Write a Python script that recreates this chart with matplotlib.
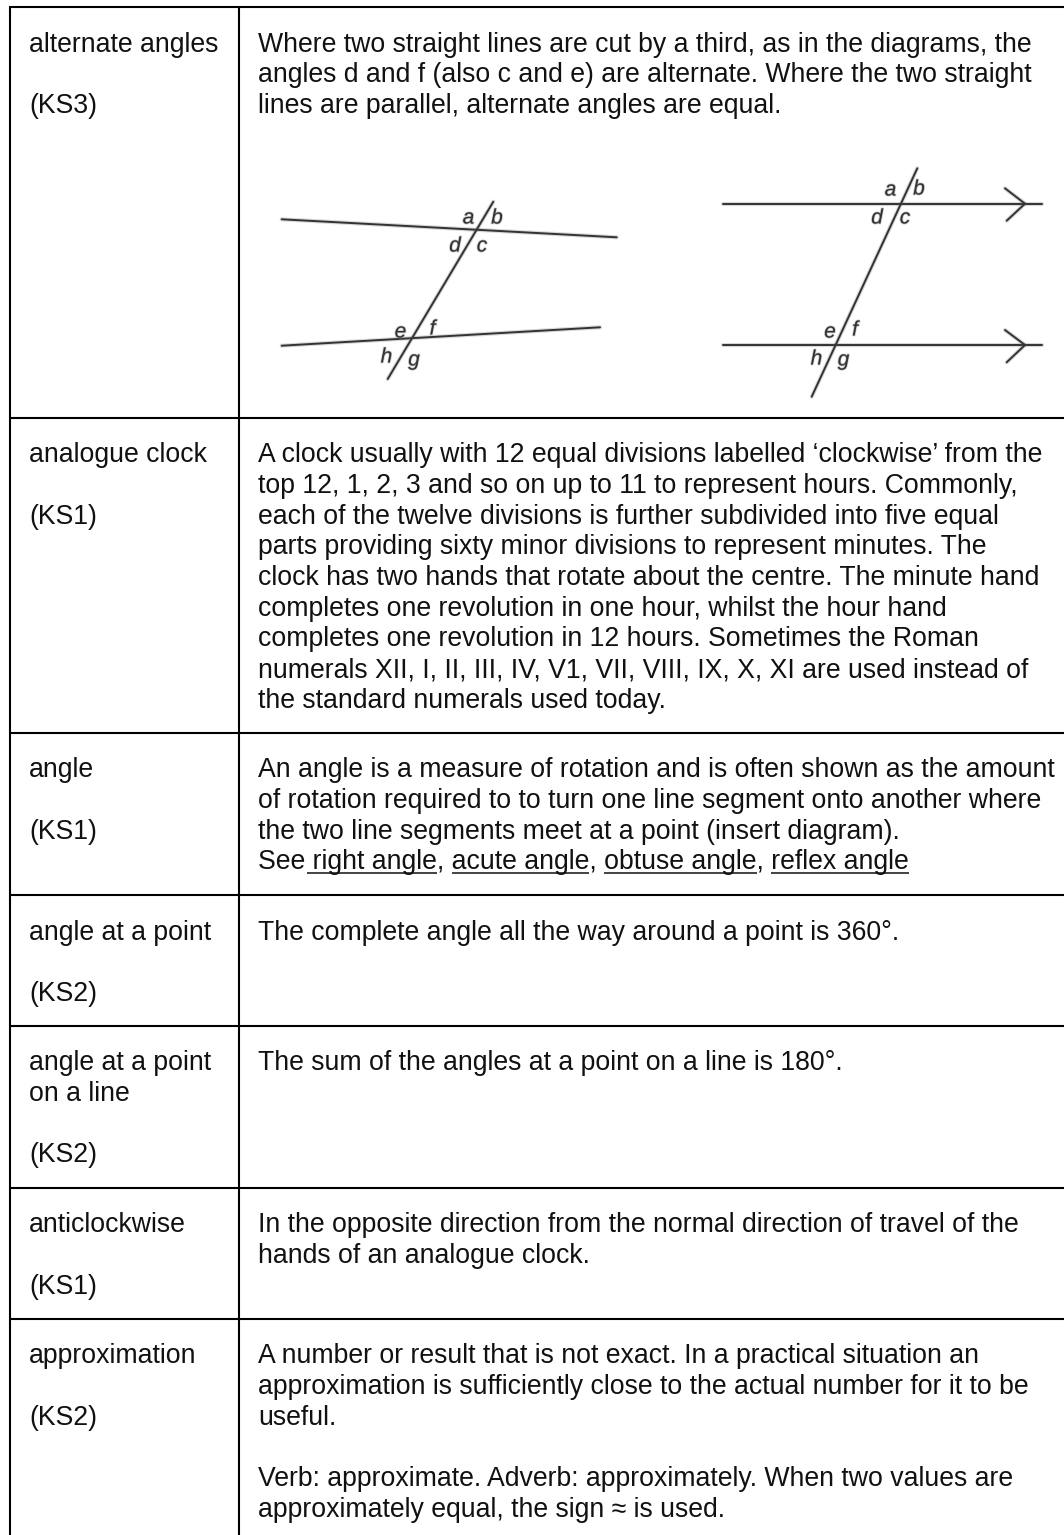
import matplotlib
matplotlib.use("Agg")
import matplotlib.pyplot as plt
import matplotlib.patheffects as pe

plt.rcParams['font.family'] = ['Liberation Sans', 'DejaVu Sans']

# table geometry, read in pixels
row_tops = [7, 417.5, 732.5, 895, 1025.5, 1187.5, 1318.5]
col_lines = [10, 239]
page_bottom = 1535
page_right = 1064

terms = [
    ["alternate angles", "", "(KS3)"],
    ["analogue clock", "", "(KS1)"],
    ["angle", "", "(KS1)"],
    ["angle at a point", "", "(KS2)"],
    ["angle at a point", "on a line", "", "(KS2)"],
    ["anticlockwise", "", "(KS1)"],
    ["approximation", "", "(KS2)"],
]

definitions = [
    ["Where two straight lines are cut by a third, as in the diagrams, the",
     "angles d and f (also c and e) are alternate. Where the two straight",
     "lines are parallel, alternate angles are equal."],
    ["A clock usually with 12 equal divisions labelled ‘clockwise’ from the",
     "top 12, 1, 2, 3 and so on up to 11 to represent hours. Commonly,",
     "each of the twelve divisions is further subdivided into five equal",
     "parts providing sixty minor divisions to represent minutes. The",
     "clock has two hands that rotate about the centre. The minute hand",
     "completes one revolution in one hour, whilst the hour hand",
     "completes one revolution in 12 hours. Sometimes the Roman",
     "numerals XII, I, II, III, IV, V1, VII, VIII, IX, X, XI are used instead of",
     "the standard numerals used today."],
    ["An angle is a measure of rotation and is often shown as the amount",
     "of rotation required to to turn one line segment onto another where",
     "the two line segments meet at a point (insert diagram).",
     "See right angle, acute angle, obtuse angle, reflex angle"],
    ["The complete angle all the way around a point is 360°."],
    ["The sum of the angles at a point on a line is 180°."],
    ["In the opposite direction from the normal direction of travel of the",
     "hands of an analogue clock."],
    ["A number or result that is not exact. In a practical situation an",
     "approximation is sufficiently close to the actual number for it to be",
     "useful.",
     "",
     "Verb: approximate. Adverb: approximately. When two values are",
     "approximately equal, the sign ≈ is used."],
]

see_also = ["right angle", "acute angle", "obtuse angle", "reflex angle"]

# left diagram (converging lines)
left_lines = [
    [(281.7, 219.3), (616.7, 237.3)],
    [(281.7, 345.7), (600, 327.3)],
    [(493.3, 201.7), (387.7, 379)],
]
left_labels = [("a", 468.5, 218), ("b", 497, 218), ("d", 455, 246), ("c", 482, 246),
               ("e", 400.5, 332), ("f", 432.5, 329), ("h", 386.5, 357), ("g", 414, 360)]

# right diagram (parallel lines with arrows)
right_lines = [
    [(722.7, 203.7), (1041.7, 203.7)],
    [(722.7, 345), (1041.7, 345)],
    [(917.3, 168.3), (811.7, 396.7)],
    [(1005, 188.3), (1025, 203.7), (1006.7, 220.7)],
    [(1005, 330), (1025, 345), (1006.7, 362.3)],
]
right_labels = [("a", 890.5, 190), ("b", 919, 189), ("d", 877, 218), ("c", 905, 218),
                ("e", 830, 332), ("f", 855, 330), ("h", 816.5, 359), ("g", 843.5, 360)]

text_size = 19.15
text_color = "#111111"
line_step = 30.7
first_baseline = 44.8

fig = plt.figure(figsize=(10.64, 15.35), dpi=100)
ax = fig.add_axes([0, 0, 1, 1])
ax.set_xlim(0, page_right)
ax.set_ylim(page_bottom, 0)
ax.axis("off")

# grid of the table
for y in row_tops:
    ax.plot([col_lines[0] - 1, page_right], [y, y], color="black", lw=1.5, solid_capstyle="butt")
for x in col_lines:
    ax.plot([x, x], [row_tops[0], page_bottom], color="black", lw=1.5, solid_capstyle="butt")


def draw_cell(lines, x, top):
    for n, line in enumerate(lines):
        if line:
            ax.text(x, top + first_baseline + n * line_step, line, fontsize=text_size,
                    color=text_color, va="baseline", ha="left")


for top, term, definition in zip(row_tops, terms, definitions):
    draw_cell(term, 29, top)
    draw_cell(definition, 258, top)

# underlines for the "See ..." line
renderer = fig.canvas.get_renderer()
see_line = definitions[2][3]
see_y = row_tops[2] + first_baseline + 3 * line_step + 3.2


def text_width(s):
    t = ax.text(0, 0, s, fontsize=text_size)
    w = renderer.get_text_width_height_descent(s, t.get_fontproperties(), False)[0]
    t.remove()
    return w


for word in see_also:
    start = see_line.index(word)
    x0 = 258 + text_width(see_line[:start])
    x1 = x0 + text_width(word)
    if word == see_also[0]:
        x0 -= 6
    ax.plot([x0, x1], [see_y, see_y], color=text_color, lw=1.1, solid_capstyle="butt")


def draw_diagram(lines, labels):
    for seg in lines:
        xs = [p[0] for p in seg]
        ys = [p[1] for p in seg]
        # soft halo because the original diagrams are blurry scans
        ax.plot(xs, ys, color="#666666", lw=3.0, alpha=0.25, solid_capstyle="round")
        ax.plot(xs, ys, color="#333333", lw=1.4, solid_capstyle="round")
    for s, x, y in labels:
        t = ax.text(x, y, s, fontsize=15, style="italic", color="#333333", ha="center", va="center")
        t.set_path_effects([pe.withStroke(linewidth=1.2, foreground="#999999", alpha=0.5)])


draw_diagram(left_lines, left_labels)
draw_diagram(right_lines, right_labels)

fig.savefig("out.png", dpi=100)
